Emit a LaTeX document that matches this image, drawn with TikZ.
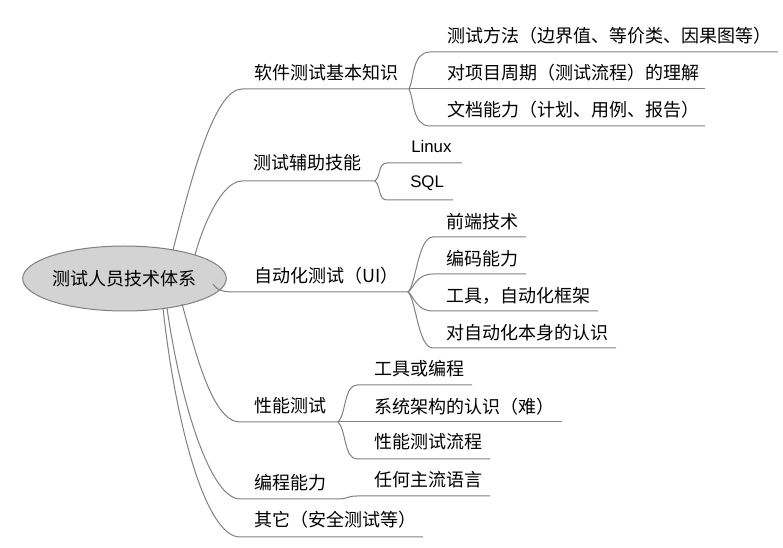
\documentclass[tikz,border=0pt]{standalone}
\usepackage{fontspec}
\setmainfont{Noto Sans CJK SC}
\newfontfamily\arialf{Liberation Sans}
\usetikzlibrary{shapes.geometric}
\definecolor{linec}{RGB}{128,128,128}
\definecolor{rootfill}{RGB}{211,211,211}
\tikzset{
  conn/.style={draw=linec, line width=0.75pt},
  lbl/.style={anchor=west, inner sep=0pt, font=\fontsize{13.5pt}{15pt}\selectfont},
  lbla/.style={anchor=west, inner sep=0pt, font=\arialf\fontsize{12.6pt}{15pt}\selectfont},
  rootbox/.style={ellipse, draw=linec, fill=rootfill, line width=0.75pt, minimum width=132.75pt, minimum height=48.75pt, inner sep=0pt, font=\fontsize{13.5pt}{15pt}\selectfont}
}
\begin{document}
\begin{tikzpicture}[x=0.75pt, y=-0.75pt]
\useasboundingbox (0,0) rectangle (783,548);
% root
\node[rootbox] (root) at (124.5,278.5) {测试人员技术体系};
% branch labels
\node[lbl] (b1) at (254,73) {软件测试基本知识};
\node[lbl] (b2) at (253,163) {测试辅助技能};
\node[lbl] (b3) at (254,276) {自动化测试（UI）};
\node[lbl] (b4) at (254,406) {性能测试};
\node[lbl] (b5) at (254,483) {编程能力};
\node[lbl] (b6) at (254,520) {其它（安全测试等）};
% sub labels
\node[lbl] (s11) at (447,36) {测试方法（边界值、等价类、因果图等）};
\node[lbl] (s12) at (447,73) {对项目周期（测试流程）的理解};
\node[lbl] (s13) at (447,110) {文档能力（计划、用例、报告）};
\node[lbla] (s21) at (411,147) {Linux};
\node[lbla] (s22) at (410,183) {SQL};
\node[lbl] (s31) at (446,222) {前端技术};
\node[lbl] (s32) at (446,259) {编码能力};
\node[lbl] (s33) at (446,296) {工具，自动化框架};
\node[lbl] (s34) at (446,333) {对自动化本身的认识};
\node[lbl] (s41) at (374,369) {工具或编程};
\node[lbl] (s42) at (374,407) {系统架构的认识（难）};
\node[lbl] (s43) at (374,442) {性能测试流程};
\node[lbl] (s51) at (374,480) {任何主流语言};
% coordinates
\coordinate (r1) at (173,250);
\coordinate (r2) at (195,255);
\coordinate (r3) at (213,284);
\coordinate (r4) at (182,304);
\coordinate (r5) at (167,308);
\coordinate (r6) at (163,308);
\coordinate (b1a) at (242,89);  \coordinate (b1f) at (409,89);
\coordinate (b2a) at (242,181); \coordinate (b2f) at (375,181);
\coordinate (b3a) at (240,292); \coordinate (b3f) at (408,292);
\coordinate (b4a) at (240,422); \coordinate (b4f) at (338,422);
\coordinate (b5a) at (240,499); \coordinate (b5f) at (338,499);
\coordinate (b6a) at (240,537); \coordinate (b6e) at (423,537);
\coordinate (s11a) at (430,52);  \coordinate (s11e) at (778,52);
\coordinate (s12e) at (705,89);
\coordinate (s13a) at (430,126); \coordinate (s13e) at (705,126);
\coordinate (s21a) at (387,163); \coordinate (s21e) at (462,163);
\coordinate (s22a) at (387,200); \coordinate (s22e) at (453,200);
\coordinate (s31a) at (433,237); \coordinate (s31e) at (526,237);
\coordinate (s32a) at (433,274); \coordinate (s32e) at (526,274);
\coordinate (s33a) at (433,311); \coordinate (s33e) at (598,311);
\coordinate (s34a) at (433,348); \coordinate (s34e) at (616,348);
\coordinate (s41a) at (357,385); \coordinate (s41e) at (472,385);
\coordinate (s42e) at (562,422);
\coordinate (s43a) at (357,459); \coordinate (s43e) at (490,459);
\coordinate (s51a) at (357,496); \coordinate (s51e) at (490,496);
% main connectors
\draw[conn] (r1) .. controls (191,180) and (214,89) .. (b1a) -- (b1f);
\draw[conn] (r2) .. controls (203,225) and (222,181) .. (b2a) -- (b2f);
\draw[conn] (r3) .. controls (218,292) and (226,292) .. (b3a) -- (b3f);
\draw[conn] (r4) .. controls (195,350) and (212,422) .. (b4a) -- (b4f);
\draw[conn] (r5) .. controls (180,400) and (210,499) .. (b5a) -- (b5f);
\draw[conn] (r6) .. controls (175,420) and (205,537) .. (b6a) -- (b6e);
% sub connectors
\draw[conn] (b1f) .. controls (414,80) and (412,52) .. (s11a) -- (s11e);
\draw[conn] (b1f) -- (s12e);
\draw[conn] (b1f) .. controls (414,98) and (412,126) .. (s13a) -- (s13e);
\draw[conn] (b2f) .. controls (381,176) and (378,163) .. (s21a) -- (s21e);
\draw[conn] (b2f) .. controls (381,186) and (378,200) .. (s22a) -- (s22e);
\draw[conn] (b3f) .. controls (416,285) and (418,237) .. (s31a) -- (s31e);
\draw[conn] (b3f) .. controls (414,288) and (416,274) .. (s32a) -- (s32e);
\draw[conn] (b3f) .. controls (414,296) and (416,311) .. (s33a) -- (s33e);
\draw[conn] (b3f) .. controls (416,299) and (418,348) .. (s34a) -- (s34e);
\draw[conn] (b4f) .. controls (346,415) and (344,385) .. (s41a) -- (s41e);
\draw[conn] (b4f) -- (s42e);
\draw[conn] (b4f) .. controls (346,429) and (344,459) .. (s43a) -- (s43e);
\draw[conn] (b5f) .. controls (348,499) and (347,496) .. (s51a) -- (s51e);
\end{tikzpicture}
\end{document}
